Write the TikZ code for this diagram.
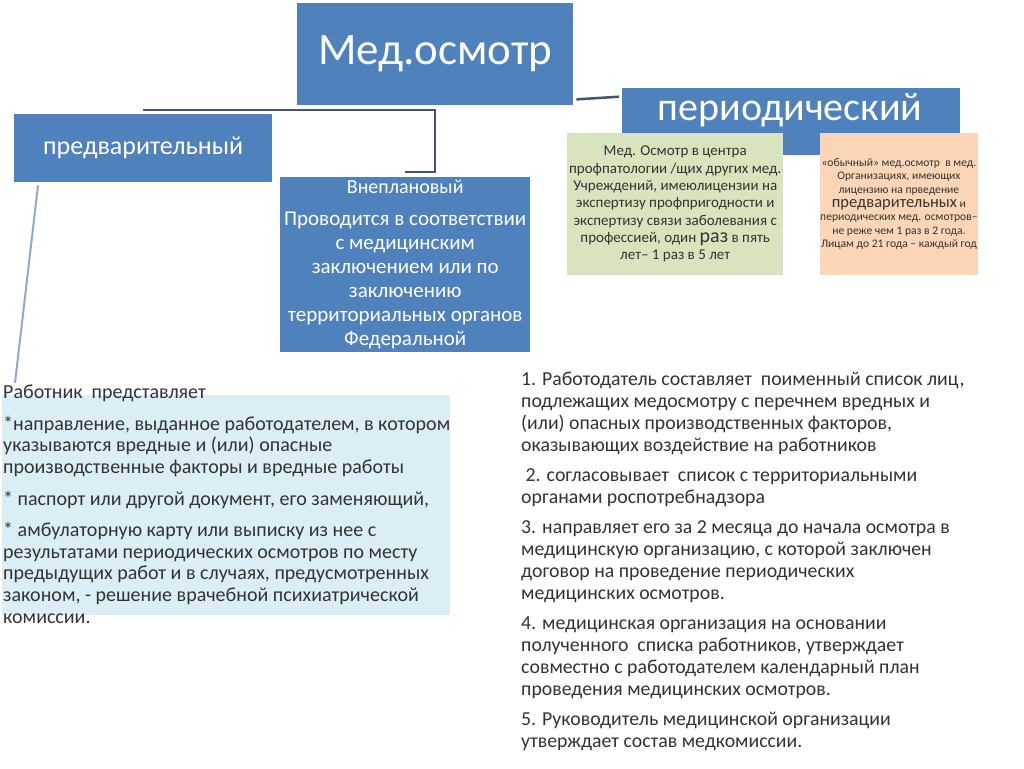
\documentclass[tikz,border=0pt]{standalone}
\usepackage{fontspec}
\setmainfont{Carlito}
\usetikzlibrary{calc}
\definecolor{oblue}{HTML}{4F81BD}
\definecolor{ogreen}{HTML}{D7E4BD}
\definecolor{opeach}{HTML}{FBD5B5}
\definecolor{olight}{HTML}{DBEEF6}
\definecolor{oline}{HTML}{44546A}
\definecolor{oslant}{HTML}{8EA9CC}
\definecolor{otext}{HTML}{333333}
\tikzset{
  bluebox/.style={fill=oblue, draw=none, text=white, inner sep=0pt, anchor=north west, align=center},
  notebox/.style={draw=none, inner sep=0pt, anchor=north west, align=center, text=otext},
  conn/.style={draw=oline, line width=2.5pt},
  plain/.style={inner sep=0pt, anchor=north west, align=left, text=otext}
}
\begin{document}
\begin{tikzpicture}[x=1pt,y=-1pt]
\useasboundingbox[fill=white] (0,0) rectangle (1024,768);

% top node
\node[bluebox, minimum width=276pt, minimum height=102pt, font=\fontsize{45}{52}\selectfont] (med) at (297,3)
  {Мед.осмотр};

% предварительный
\node[bluebox, minimum width=258pt, minimum height=68pt, font=\fontsize{26}{30}\selectfont] (predv) at (14,114)
  {предварительный};

% Внеплановый
\node[bluebox, minimum width=250pt, minimum height=175pt, font=\fontsize{21}{24}\selectfont] (vnep) at (280,177)
  {{\fontsize{20}{24}\selectfont Внеплановый}\\[8pt]
   Проводится в соответствии\\
   с медицинским\\ заключением или по\\ заключению\\
   территориальных органов\\ Федеральной};

% периодический
\node[bluebox, minimum width=338pt, minimum height=67pt] (per) at (622,88) {};
\node[inner sep=0pt, text=white, font=\fontsize{40}{46}\selectfont] (pertext) at (790,110)
  {периодический};

% green note
\node[notebox, fill=ogreen, minimum width=216pt, minimum height=142pt, font=\fontsize{15}{17.3}\selectfont] (green) at (567,133)
  {\rule{0pt}{6pt}Мед. Осмотр в центра\\
   профпатологии /щих других мед.\\
   Учреждений, имеюлицензии на\\
   экспертизу профпригодности и\\
   экспертизу связи заболевания с\\
   профессией, один {\fontsize{20}{17.3}\selectfont раз} в пять\\
   лет– 1 раз в 5 лет};

% peach note
\node[notebox, fill=opeach, minimum width=155pt, minimum height=142pt, font=\fontsize{11.6}{13.6}\selectfont] (peach) at (820,133)
  {\rule{0pt}{6pt}«обычный» мед.осмотр\ \ в мед.\\
   Организациях, имеющих\\
   лицензию на прведение\\
   {\fontsize{16.5}{15}\selectfont предварительных} и\\
   периодических мед. осмотров–\\
   не реже чем 1 раз в 2 года.\\
   Лицам до 21 года – каждый год};

% connectors
\draw[conn] ($(predv.north)+(0,-4)$) -| ($(vnep.north)+(30,-5)$) -- ($(vnep.north)+(0,-5)$);
\draw[conn] ($(med.south east)+(3,-6)$) -- ($(per.west)+(-3,-25)$);

% left text block
\fill[olight] (2,395) rectangle (450,615);
\node[plain, font=\fontsize{20}{21.8}\selectfont] (lefttext) at (3,385)
  {Работник\ \ представляет\\[9.5pt]
   *направление, выданное работодателем, в котором\\
   указываются вредные и (или) опасные\\
   производственные факторы и вредные работы\\[9.5pt]
   * паспорт или другой документ, его заменяющий,\\[9.5pt]
   * амбулаторную карту или выписку из нее с\\
   результатами периодических осмотров по месту\\
   предыдущих работ и в случаях, предусмотренных\\
   законом, - решение врачебной психиатрической\\
   комиссии.};

\coordinate (lt) at (15,383);
\draw[draw=oslant, line width=2pt] ($(predv.south west)+(24,3)$) -- (lt);

% right text block
\node[plain, font=\fontsize{19.8}{22}\selectfont] (righttext) at (521,372)
  {1. Работодатель составляет\ \ поименный список лиц,\\
   подлежащих медосмотру с перечнем вредных и\\
   (или) опасных производственных факторов,\\
   оказывающих воздействие на работников\\[8pt]
   \ 2. согласовывает\ \ список с территориальными\\
   органами роспотребнадзора\\[8pt]
   3. направляет его за 2 месяца до начала осмотра в\\
   медицинскую организацию, с которой заключен\\
   договор на проведение периодических\\
   медицинских осмотров.\\[8pt]
   4. медицинская организация на основании\\
   полученного\ \ списка работников, утверждает\\
   совместно с работодателем календарный план\\
   проведения медицинских осмотров.\\[8pt]
   5. Руководитель медицинской организации\\
   утверждает состав медкомиссии.};
\end{tikzpicture}
\end{document}
